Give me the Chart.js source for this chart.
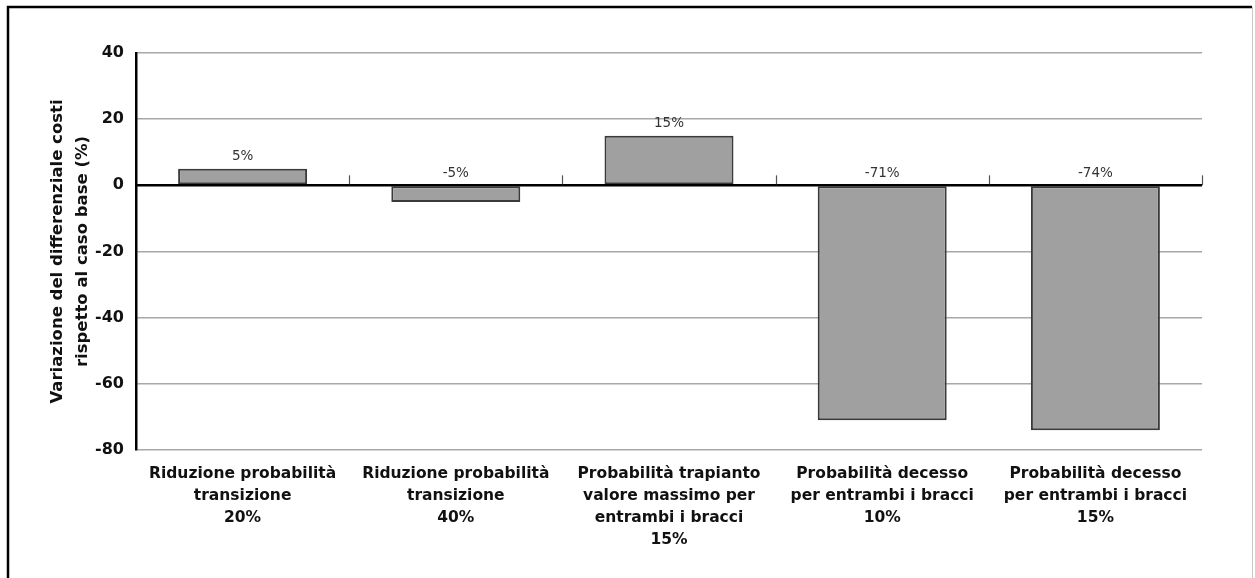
<!DOCTYPE html>
<html>
<head>
<meta charset="utf-8">
<script src="https://cdn.jsdelivr.net/npm/chart.js@4.4.0/dist/chart.umd.min.js"></script>
<style>
  html, body { margin: 0; padding: 0; background: #fff; }
  #wrap { position: relative; width: 1255px; height: 578px; }
  canvas { display: block; }
</style>
</head>
<body>
<div id="wrap"><canvas id="c" width="1255" height="578"></canvas></div>
<script>
// Scenario labels (one array per category, one entry per line)
const categories = [
  ['Riduzione probabilità', 'transizione', '20%'],
  ['Riduzione probabilità', 'transizione', '40%'],
  ['Probabilità trapianto', 'valore massimo per', 'entrambi i bracci', '15%'],
  ['Probabilità decesso', 'per entrambi i bracci', '10%'],
  ['Probabilità decesso', 'per entrambi i bracci', '15%']
];

// Change in cost differential vs. base case (%)
const costChange = [5, -5, 15, -71, -74];

// Y axis range and step
const yMin = -80;
const yMax = 40;
const yStep = 20;

const yTitleLines = ['Variazione del differenziale costi', 'rispetto al caso base (%)'];

const FONT = '"DejaVu Sans", Verdana, sans-serif';

// Frame around the figure: black left/top edges, light right edge
const framePlugin = {
  id: 'frame',
  beforeDraw(chart) {
    const c = chart.ctx;
    c.save();
    c.fillStyle = '#fff';
    c.fillRect(0, 0, chart.width, chart.height);
    c.strokeStyle = '#000';
    c.lineWidth = 2.5;
    c.beginPath();
    c.moveTo(8, chart.height);
    c.lineTo(8, 7);
    c.lineTo(chart.width - 3, 7);
    c.stroke();
    c.strokeStyle = '#c8c8c8';
    c.lineWidth = 1;
    c.beginPath();
    c.moveTo(chart.width - 2.5, 7);
    c.lineTo(chart.width - 2.5, chart.height);
    c.stroke();
    c.restore();
  }
};

// Category separators rising from the zero line, value labels and the rotated y-axis title
const extrasPlugin = {
  id: 'extras',
  afterDatasetsDraw(chart) {
    const c = chart.ctx;
    const x = chart.scales.x;
    const y = chart.scales.y;
    const zero = y.getPixelForValue(0);
    const half = (x.getPixelForValue(1) - x.getPixelForValue(0)) / 2;
    c.save();
    c.strokeStyle = '#555';
    c.lineWidth = 1.2;
    for (let i = 0; i < categories.length; i++) {
      const px = Math.round(x.getPixelForValue(i) + half) + 0.5;
      c.beginPath();
      c.moveTo(px, zero);
      c.lineTo(px, zero - 10);
      c.stroke();
    }
    // zero line over the bar edges
    c.strokeStyle = '#000';
    c.lineWidth = 2.2;
    c.beginPath();
    c.moveTo(chart.chartArea.left, zero);
    c.lineTo(chart.chartArea.right, zero);
    c.stroke();

    // value labels
    c.fillStyle = '#333';
    c.font = '13.5px ' + FONT;
    c.textAlign = 'center';
    c.textBaseline = 'middle';
    costChange.forEach((v, i) => {
      const top = y.getPixelForValue(Math.max(v, 0));
      c.fillText(v + '%', x.getPixelForValue(i), top - 12);
    });

    // y-axis title
    const area = chart.chartArea;
    const cy = (area.top + area.bottom) / 2;
    c.fillStyle = '#111';
    c.font = 'bold 16.5px ' + FONT;
    c.translate(area.left - 78, cy);
    c.rotate(-Math.PI / 2);
    c.fillText(yTitleLines[0], 0, 0);
    c.fillText(yTitleLines[1], 0, 25);
    c.restore();
  }
};

new Chart(document.getElementById('c'), {
  type: 'bar',
  data: {
    labels: categories,
    datasets: [{
      data: costChange,
      backgroundColor: '#a0a0a0',
      borderColor: '#3a3a3a',
      borderWidth: 2,
      borderSkipped: false,
      barPercentage: 0.605,
      categoryPercentage: 1.0
    }]
  },
  options: {
    responsive: false,
    animation: false,
    devicePixelRatio: 1,
    layout: { padding: { top: 53, right: 53, bottom: 0, left: 0 } },
    plugins: {
      legend: { display: false },
      tooltip: { enabled: false }
    },
    scales: {
      x: {
        grid: { display: false, drawTicks: false },
        border: { display: false },
        ticks: {
          color: '#111',
          font: { family: FONT, size: 15.5, weight: 'bold', lineHeight: 1.42 },
          padding: 13,
          maxRotation: 0,
          autoSkip: false
        },
        afterFit(scale) { scale.height = 128; }
      },
      y: {
        min: yMin,
        max: yMax,
        grid: {
          color: ctx => (ctx.tick && ctx.tick.value === 0) ? '#000' : '#a8a8a8',
          lineWidth: ctx => (ctx.tick && ctx.tick.value === 0) ? 2 : 1.6,
          drawTicks: false
        },
        border: { display: true, color: '#000', width: 2.5 },
        ticks: {
          stepSize: yStep,
          color: '#111',
          font: { family: FONT, size: 16, weight: 'bold' },
          padding: 12
        },
        afterFit(scale) { scale.width = 136; }
      }
    }
  },
  plugins: [framePlugin, extrasPlugin]
});
</script>
</body>
</html>
